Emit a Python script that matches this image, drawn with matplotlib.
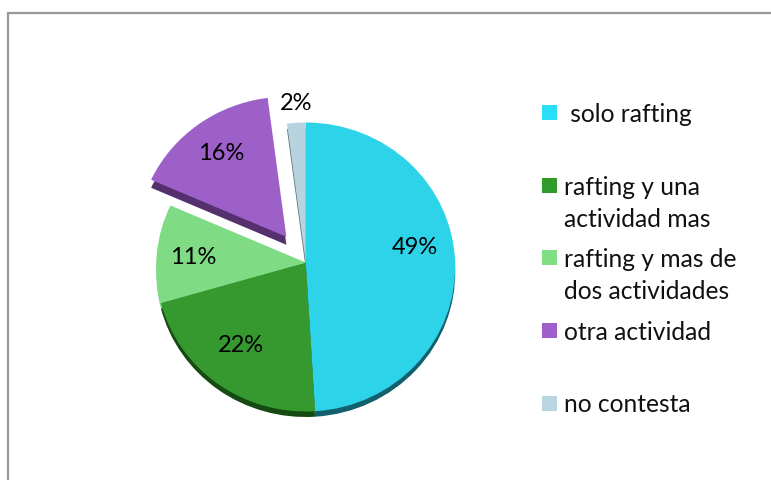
import matplotlib
matplotlib.use("Agg")
import matplotlib.pyplot as plt
from matplotlib.patches import Rectangle

plt.rcParams['font.family'] = ['Lato', 'DejaVu Sans']

categories = [' solo rafting', 'rafting y una\nactividad mas', 'rafting y mas de\ndos actividades',
              'otra actividad', 'no contesta']
values = [49, 22, 11, 16, 2]
explode = [0, 0, 0, 0.22, 0]

top_colors = ['#2DD3E8', '#36992F', '#80DB85', '#9C60C8', '#B8D3E0']
side_colors = ['#12606E', '#154A12', '#80DB85', '#55306F', '#5A6A72']
legend_colors = ['#29DFF7', '#319B29', '#80DF85', '#9E5FCB', '#B8D5E2']

W, H = 771, 481
fig = plt.figure(figsize=(W / 100, H / 100), dpi=100)

# overlay in pixel coordinates for frame, legend and labels
bg = fig.add_axes([0, 0, 1, 1], zorder=2)
bg.set_xlim(0, W)
bg.set_ylim(H, 0)
bg.axis('off')
bg.plot([8, 8, W], [H, 13.5, 13.5], color='#999999', lw=1.6, solid_joinstyle='miter')

# pie lives in its own axes, slightly squashed like the tilted original
rx, ry = 149.5, 144.5
cx, cy = 305.7, 268
ax = fig.add_axes([(cx - 2 * rx) / W, 1 - (cy + 2 * ry) / H, 4 * rx / W, 4 * ry / H], zorder=1)


def lift_apex(wedges, dy):
    # perspective: the centre of the disc sits above the middle of the ellipse
    for w in wedges:
        path = w.get_path()
        near = (abs(path.vertices[:, 0] - w.center[0]) < 1e-6) & (abs(path.vertices[:, 1] - w.center[1]) < 1e-6)
        path.vertices[near, 1] += dy


# dark copy below gives the side of the tilted disc
side, _ = ax.pie(values, colors=side_colors, startangle=90, counterclock=False, explode=explode,
                 center=(0, -5.5 / ry), radius=1)
side[3].set_center((side[3].center[0], side[3].center[1] - 2.5 / ry))
lift_apex(side, 4.5 / ry)
top, _ = ax.pie(values, colors=top_colors, startangle=90, counterclock=False, explode=explode, radius=1)
lift_apex(top, 4.5 / ry)
ax.set_aspect('auto')
ax.set_xlim(-2, 2)
ax.set_ylim(-2, 2)
ax.axis('off')

# percent labels
label_x = [415, 241, 193, 221, 296]
label_y = [248, 345.5, 257.5, 153.5, 104]
for v, x, y in zip(values, label_x, label_y):
    bg.text(x, y, f'{v}%', ha='center', va='center', fontsize=17, color='black')

# legend
box_y = [106, 179, 251, 324, 397]
text_y = [122, 195, 267, 340, 412]
for name, color, by, ty in zip(categories, legend_colors, box_y, text_y):
    bg.add_patch(Rectangle((542, by), 15, 15, color=color, lw=0))
    lines = name.split('\n')
    for i, line in enumerate(lines):
        bg.text(564, ty + i * 32.5, line, ha='left', va='baseline', fontsize=17.7, color='#111111')

fig.savefig('out.png', dpi=100)
